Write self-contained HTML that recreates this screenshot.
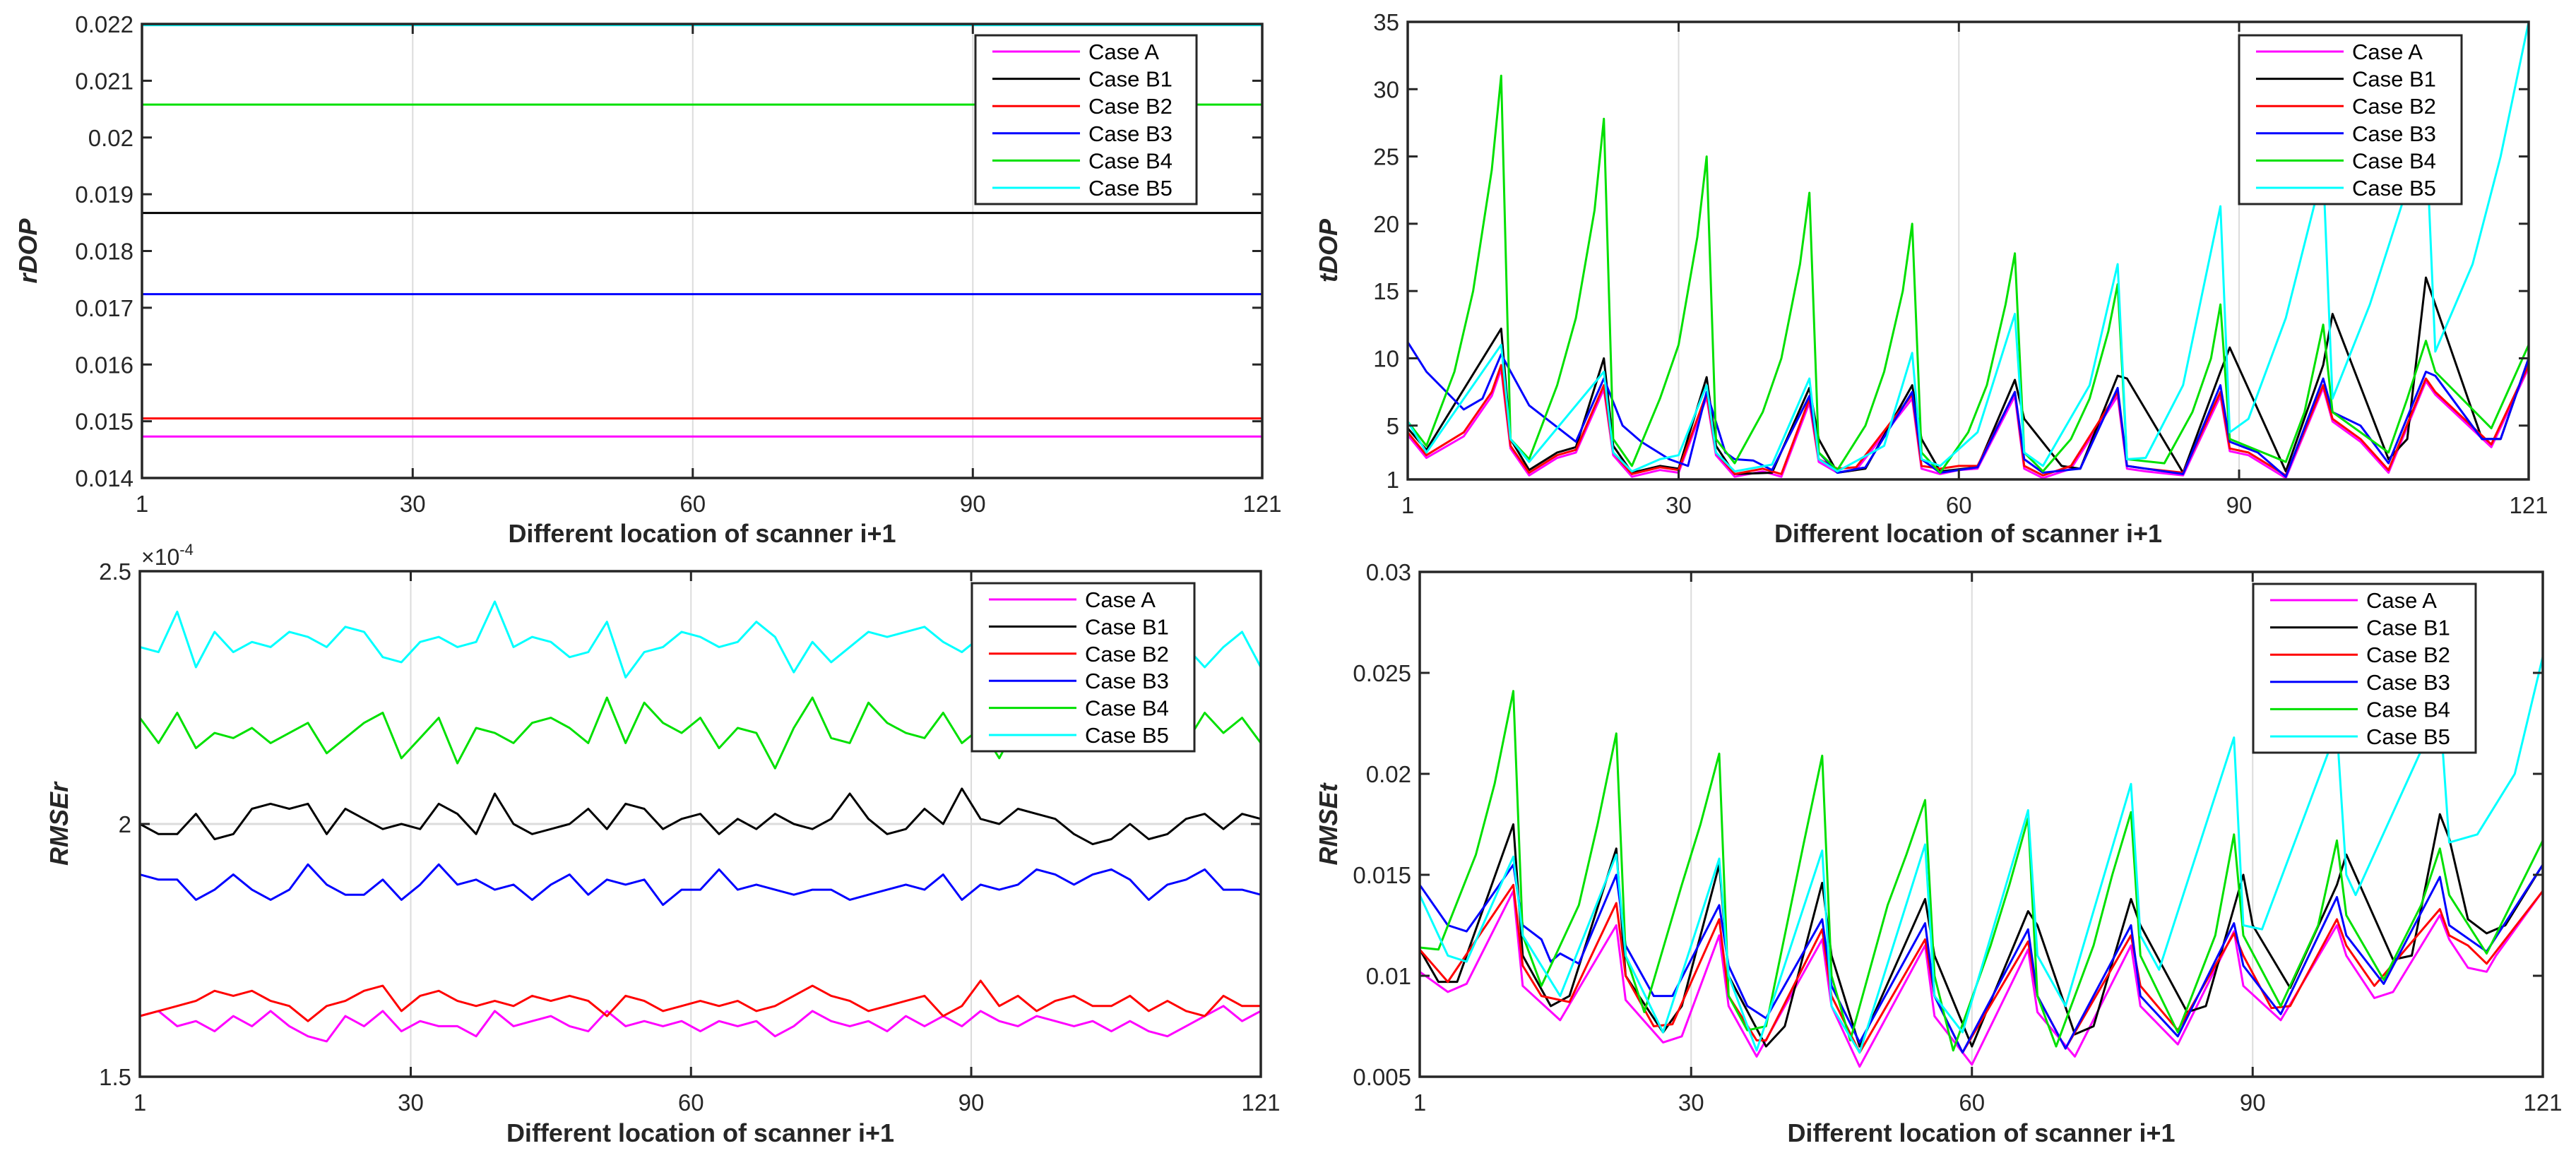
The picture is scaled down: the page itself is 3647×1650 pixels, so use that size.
<!DOCTYPE html>
<html><head><meta charset="utf-8"><style>
html,body{margin:0;padding:0;background:#fff;}
svg{display:block;font-family:"Liberation Sans",Arial,sans-serif;}
</style></head><body>
<svg id="fig" width="3647" height="1650" viewBox="0 0 3647 1650" xmlns="http://www.w3.org/2000/svg"></svg>
<script>
const caseNames = ["Case A","Case B1","Case B2","Case B3","Case B4","Case B5"];
const caseColors = ["#ff00ff","#000000","#ff0000","#0000ff","#00e000","#00ffff"];
const xTicks = [1,30,60,90,121];

// rDOP constant values
const rdopValues = [0.01473,0.01867,0.01505,0.01724,0.02058,0.02198];
const rdopTicks = [0.014,0.015,0.016,0.017,0.018,0.019,0.02,0.021,0.022];
const rdopTickLabels = ["0.014","0.015","0.016","0.017","0.018","0.019","0.02","0.021","0.022"];

// tDOP keypoints
const tdopTicks = [1,5,10,15,20,25,30,35];
const tdopAX = [1,3,7,10,11,12,14,17,19,22,23,25,28,30,33,34,36,39,41,44,45,47,49,55,56,58,60,62,66,67,69,72,77,78,80,84,88,89,91,95,99,100,103,106,110,111,117,121];
const tdopAY = [4.3,2.6,4.2,7.2,9.2,3.3,1.3,2.6,3.0,7.7,2.8,1.2,1.7,1.5,7.1,2.8,1.2,1.6,1.2,6.7,2.3,1.5,1.7,7.0,1.8,1.4,1.7,1.8,7.2,1.8,1.1,1.8,7.2,1.8,1.6,1.3,7.2,3.1,2.8,1.1,7.8,5.3,3.8,1.5,8.3,7.3,3.4,9.3];
const tdopB1X = [1,3,11,12,14,17,19,22,23,25,28,30,33,34,36,40,44,45,47,50,55,56,58,62,66,67,71,73,77,78,84,88,89,95,99,100,106,108,110,111,116,118,121];
const tdopB1Y = [4.8,3.2,12.2,4,1.7,3,3.4,10,3.5,1.5,2,1.8,8.6,3.5,1.4,1.5,7.8,4,1.5,1.8,8,4,1.6,1.9,8.4,5.5,2,1.8,8.7,8.5,1.5,9,10.8,1.6,9.5,13.3,2.5,4,16,14,4,4,10];
const tdopB2X = [1,3,7,10,11,12,14,17,19,22,23,25,28,30,33,34,36,39,41,44,45,47,49,55,56,58,60,62,66,67,69,72,77,78,80,84,88,89,91,95,99,100,103,106,110,111,117,121];
const tdopB2Y = [4.5,2.8,4.5,7.5,9.5,3.5,1.5,2.8,3.2,8,3,1.4,1.9,1.7,7.4,3,1.4,1.8,1.4,7,2.5,1.8,1.9,7.3,2,1.8,2.0,2.0,7.5,2,1.3,2,7.5,2,1.8,1.5,7.5,3.3,3,1.3,8,5.5,4,1.7,8.5,7.5,3.6,9.5];
const tdopB3X = [1,3,7,9,11,14,19,22,24,26,29,31,33,35,36,38,40,44,45,47,50,55,56,58,62,66,67,69,73,77,78,84,88,89,92,95,99,100,103,106,110,111,116,118,121];
const tdopB3Y = [11.2,9,6.2,7,10.3,6.5,3.8,8.5,5,3.8,2.5,2,7.5,3,2.5,2.4,1.7,7.2,3,1.5,1.9,7.5,2.5,1.5,1.9,7.5,2.5,1.5,1.8,7.8,2,1.4,8,3.8,3,1.2,8.5,6,5,2.2,9,8.7,4,4,10];
const tdopB4X = [1,3,6,8,10,11,12,14,17,19,21,22,23,25,28,30,32,33,34,36,39,41,43,44,45,47,50,52,54,55,56,58,61,63,65,66,67,69,72,74,76,77,78,82,85,87,88,89,95,97,99,100,106,108,110,111,117,121];
const tdopB4Y = [5.3,3.5,9,15,24,31,4,2.5,8,13,21,27.8,4,2,7,11,19,25,4,2.2,6,10,17,22.3,3,1.7,5,9,15,20,3,1.5,4.5,8,14,17.8,3,1.6,4,7,12,15.5,2.5,2.2,6,10,14,4,2.3,6,12.5,6,3,7,11.3,9,4.8,11];
const tdopB5X = [1,3,11,12,14,22,23,25,28,30,33,34,36,40,44,45,47,52,55,56,58,62,66,67,69,74,77,78,80,84,88,89,91,95,99,100,104,110,111,115,118,121];
const tdopB5Y = [5.3,3.0,11,4,2.3,9,3,1.6,2.5,2.8,8,3,1.6,2.1,8.5,2.5,1.6,3.5,10.4,2.5,2,4.5,13.3,3,2,8,17,2.5,2.6,8,21.3,4.5,5.5,13,24,7,14,27,10.5,17,25,35];

// RMSEr (x1e-4), odd x positions 1,3,...,121
const rmserX = [1,3,5,7,9,11,13,15,17,19,21,23,25,27,29,31,33,35,37,39,41,43,45,47,49,51,53,55,57,59,61,63,65,67,69,71,73,75,77,79,81,83,85,87,89,91,93,95,97,99,101,103,105,107,109,111,113,115,117,119,121];
const rmserTicks = [1.5,2,2.5];
const rmserA = [1.62,1.63,1.60,1.61,1.59,1.62,1.60,1.63,1.60,1.58,1.57,1.62,1.60,1.63,1.59,1.61,1.60,1.60,1.58,1.63,1.60,1.61,1.62,1.60,1.59,1.63,1.60,1.61,1.60,1.61,1.59,1.61,1.60,1.61,1.58,1.60,1.63,1.61,1.60,1.61,1.59,1.62,1.60,1.62,1.60,1.63,1.61,1.60,1.62,1.61,1.60,1.61,1.59,1.61,1.59,1.58,1.60,1.62,1.64,1.61,1.63];
const rmserB1 = [2.00,1.98,1.98,2.02,1.97,1.98,2.03,2.04,2.03,2.04,1.98,2.03,2.01,1.99,2.00,1.99,2.04,2.02,1.98,2.06,2.00,1.98,1.99,2.00,2.03,1.99,2.04,2.03,1.99,2.01,2.02,1.98,2.01,1.99,2.02,2.00,1.99,2.01,2.06,2.01,1.98,1.99,2.03,2.00,2.07,2.01,2.00,2.03,2.02,2.01,1.98,1.96,1.97,2.00,1.97,1.98,2.01,2.02,1.99,2.02,2.01];
const rmserB2 = [1.62,1.63,1.64,1.65,1.67,1.66,1.67,1.65,1.64,1.61,1.64,1.65,1.67,1.68,1.63,1.66,1.67,1.65,1.64,1.65,1.64,1.66,1.65,1.66,1.65,1.62,1.66,1.65,1.63,1.64,1.65,1.64,1.65,1.63,1.64,1.66,1.68,1.66,1.65,1.63,1.64,1.65,1.66,1.62,1.64,1.69,1.64,1.66,1.63,1.65,1.66,1.64,1.64,1.66,1.63,1.65,1.63,1.62,1.66,1.64,1.64];
const rmserB3 = [1.90,1.89,1.89,1.85,1.87,1.90,1.87,1.85,1.87,1.92,1.88,1.86,1.86,1.89,1.85,1.88,1.92,1.88,1.89,1.87,1.88,1.85,1.88,1.90,1.86,1.89,1.88,1.89,1.84,1.87,1.87,1.91,1.87,1.88,1.87,1.86,1.87,1.87,1.85,1.86,1.87,1.88,1.87,1.90,1.85,1.88,1.87,1.88,1.91,1.90,1.88,1.90,1.91,1.89,1.85,1.88,1.89,1.91,1.87,1.87,1.86];
const rmserB4 = [2.21,2.16,2.22,2.15,2.18,2.17,2.19,2.16,2.18,2.20,2.14,2.17,2.20,2.22,2.13,2.17,2.21,2.12,2.19,2.18,2.16,2.20,2.21,2.19,2.16,2.25,2.16,2.24,2.20,2.18,2.21,2.15,2.19,2.18,2.11,2.19,2.25,2.17,2.16,2.24,2.20,2.18,2.17,2.22,2.16,2.19,2.13,2.20,2.20,2.23,2.22,2.19,2.21,2.24,2.17,2.18,2.16,2.22,2.18,2.21,2.16];
const rmserB5 = [2.35,2.34,2.42,2.31,2.38,2.34,2.36,2.35,2.38,2.37,2.35,2.39,2.38,2.33,2.32,2.36,2.37,2.35,2.36,2.44,2.35,2.37,2.36,2.33,2.34,2.40,2.29,2.34,2.35,2.38,2.37,2.35,2.36,2.40,2.37,2.30,2.36,2.32,2.35,2.38,2.37,2.38,2.39,2.36,2.34,2.37,2.47,2.35,2.37,2.33,2.36,2.34,2.35,2.38,2.33,2.37,2.35,2.31,2.35,2.38,2.31];

// RMSEt keypoints
const rmsetTicks = [0.005,0.01,0.015,0.02,0.025,0.03];
const rmsetTickLabels = ["0.005","0.01","0.015","0.02","0.025","0.03"];
const rmsetAX = [1,4,6,11,12,16,22,23,27,29,33,34,37,44,45,48,55,56,60,66,67,71,77,78,82,88,89,93,99,100,103,105,110,111,113,115,116,121];
const rmsetAY = [0.0102,0.0092,0.0096,0.0142,0.0095,0.0078,0.0125,0.0088,0.0067,0.007,0.012,0.0085,0.006,0.0118,0.0085,0.0055,0.0115,0.008,0.0056,0.0113,0.0082,0.006,0.0115,0.0085,0.0066,0.0122,0.0095,0.0078,0.0125,0.011,0.0089,0.0092,0.013,0.0118,0.0104,0.0102,0.011,0.0142];
const rmsetB1X = [1,3,5,11,12,15,17,22,23,27,29,33,34,38,40,44,45,48,55,56,60,66,67,71,73,77,78,83,85,89,90,94,99,100,105,107,110,111,113,115,117,121];
const rmsetB1Y = [0.0113,0.0097,0.0097,0.0175,0.011,0.0085,0.009,0.0163,0.01,0.0072,0.0085,0.0155,0.01,0.0065,0.0075,0.0146,0.011,0.0065,0.0138,0.011,0.0065,0.0132,0.0125,0.0071,0.0075,0.0138,0.0125,0.0082,0.0085,0.015,0.0125,0.0094,0.0145,0.016,0.0108,0.011,0.018,0.0168,0.0128,0.0121,0.0125,0.0155];
const rmsetB2X = [1,4,11,12,14,17,22,23,26,28,33,34,37,38,44,45,48,55,56,59,66,67,70,77,78,82,88,89,92,94,99,100,103,110,111,113,115,121];
const rmsetB2Y = [0.0113,0.0097,0.0145,0.0105,0.009,0.0087,0.0136,0.01,0.0075,0.0076,0.0128,0.009,0.0068,0.0068,0.0123,0.009,0.0062,0.0118,0.009,0.0062,0.0117,0.009,0.0064,0.012,0.0095,0.0073,0.0121,0.011,0.0084,0.0085,0.0128,0.0115,0.0095,0.0133,0.012,0.0115,0.0106,0.0142];
const rmsetB3X = [1,4,6,8,11,12,14,15,16,18,22,23,26,28,33,34,36,38,44,45,48,55,56,59,66,67,70,77,78,82,88,89,93,99,100,104,110,111,115,121];
const rmsetB3Y = [0.0145,0.0125,0.0122,0.0135,0.0155,0.0125,0.0118,0.0107,0.0111,0.0106,0.015,0.0115,0.009,0.009,0.0135,0.0105,0.0085,0.0079,0.0128,0.0095,0.0067,0.0126,0.009,0.0062,0.0123,0.009,0.0064,0.0125,0.009,0.007,0.0126,0.0105,0.0081,0.0139,0.012,0.0096,0.0149,0.0125,0.0112,0.0155];
const rmsetB4X = [1,3,7,9,11,12,14,18,20,22,23,25,29,31,33,34,36,38,42,44,45,47,51,53,55,56,58,62,64,66,67,69,73,75,77,78,82,86,88,89,93,97,99,100,104,108,110,111,115,121];
const rmsetB4Y = [0.0114,0.0113,0.016,0.0195,0.0241,0.012,0.0095,0.0135,0.0175,0.022,0.011,0.0082,0.0145,0.0175,0.021,0.009,0.0073,0.0075,0.0165,0.0209,0.01,0.0068,0.0135,0.016,0.0187,0.01,0.0063,0.0115,0.0145,0.0178,0.009,0.0065,0.0115,0.015,0.0181,0.011,0.0072,0.012,0.017,0.012,0.0085,0.0125,0.0167,0.013,0.0098,0.0135,0.0163,0.014,0.0111,0.0167];
const rmsetB5X = [1,4,6,11,12,16,22,23,27,33,34,37,44,45,48,55,56,59,66,67,70,77,78,80,88,89,91,99,100,101,110,111,114,118,121];
const rmsetB5Y = [0.014,0.011,0.0107,0.0159,0.012,0.009,0.016,0.011,0.0072,0.0158,0.01,0.0063,0.0162,0.0085,0.0062,0.0165,0.009,0.0072,0.0182,0.011,0.0085,0.0195,0.012,0.0103,0.0218,0.0125,0.0123,0.0222,0.015,0.014,0.0232,0.0166,0.017,0.02,0.0258];

const NS = "http://www.w3.org/2000/svg";
const svg = document.getElementById("fig");
function mk(tag, attrs, parent){
  const e = document.createElementNS(NS, tag);
  for (const k in attrs) e.setAttribute(k, attrs[k]);
  (parent||svg).appendChild(e);
  return e;
}

function drawChart(cfg){
  const g = mk("g", {});
  
  
  const {L,R,T,B,ymin,ymax} = cfg;
  const sx = v => L + (v-1)/(120)*(R-L);
  const sy = v => B - (v-ymin)/(ymax-ymin)*(B-T);
  // grid
  [30,60,90].forEach(t=>{
    const gl = mk("line",{x1:sx(t),x2:sx(t),y1:T,y2:B,stroke:"#dcdcdc","stroke-width":2},g);
    
    
  });
  (cfg.hgrid||[]).forEach(t=>{
    const gl = mk("line",{x1:L,x2:R,y1:sy(t),y2:sy(t),stroke:"#dcdcdc","stroke-width":3},g);
    
    
  });
  const cid = "clip-"+cfg.name;
  const cp = mk("clipPath",{id:cid},g);
  mk("rect",{x:L,y:T,width:R-L,height:B-T},cp);
  const sg = mk("g",{"clip-path":"url(#"+cid+")"},g);
  cfg.series.forEach((s,i)=>{
    const pts = s.x.map((xv,j)=>sx(xv).toFixed(1)+","+sy(s.y[j]).toFixed(1)).join(" ");
    const pl = mk("polyline",{points:pts,fill:"none",stroke:caseColors[i],"stroke-width":3,"stroke-linejoin":"round"},sg);
    
    
  });
  // axes box
  const box = mk("rect",{x:L,y:T,width:R-L,height:B-T,fill:"none",stroke:"#262626","stroke-width":3.5},g);
  
  
  // x ticks
  xTicks.forEach(t=>{
    mk("line",{x1:sx(t),x2:sx(t),y1:B,y2:B-14,stroke:"#262626","stroke-width":3},g);
    mk("line",{x1:sx(t),x2:sx(t),y1:T,y2:T+14,stroke:"#262626","stroke-width":3},g);
    const tl = mk("text",{x:sx(t),y:B+48,"text-anchor":"middle","font-size":33,fill:"#262626"},g);
    tl.textContent = t;
    
    
  });
  cfg.yTicks.forEach((t,k)=>{
    mk("line",{x1:L,x2:L+14,y1:sy(t),y2:sy(t),stroke:"#262626","stroke-width":3},g);
    mk("line",{x1:R,x2:R-14,y1:sy(t),y2:sy(t),stroke:"#262626","stroke-width":3},g);
    const tl = mk("text",{x:L-12,y:sy(t)+12,"text-anchor":"end","font-size":33,fill:"#262626"},g);
    tl.textContent = cfg.yTickLabels ? cfg.yTickLabels[k] : String(t);
    
    
  });
  const xl = mk("text",{x:(L+R)/2,y:cfg.xlabelY,"text-anchor":"middle","font-size":36,"font-weight":"bold",fill:"#262626"},g);
  xl.textContent = "Different location of scanner i+1";
  
  
  const yl = mk("text",{x:0,y:0,"text-anchor":"middle","font-size":36,"font-weight":"bold","font-style":"italic",fill:"#262626",transform:"translate("+cfg.ylabelX+","+((T+B)/2)+") rotate(-90)"},g);
  yl.textContent = cfg.ylabel;
  
  
  // legend
  const lg = mk("g",{},g);
  
  
  const Lg = cfg.legend;
  mk("rect",{x:Lg.x,y:Lg.y,width:Lg.w,height:Lg.h,fill:"#fff",stroke:"#262626","stroke-width":3},lg);
  caseNames.forEach((n,i)=>{
    const yy = Lg.y + 23 + i*(Lg.h-46)/5;
    const le = mk("g",{},lg);
    
    
    mk("line",{x1:Lg.x+24,x2:Lg.x+148,y1:yy,y2:yy,stroke:caseColors[i],"stroke-width":3},le);
    const t = mk("text",{x:Lg.x+160,y:yy+11,"font-size":31,fill:"#000"},le);
    t.textContent = n;
  });
}

drawChart({name:"rdop-chart",L:201,R:1787,T:34,B:677,ymin:0.014,ymax:0.022,
  yTicks:rdopTicks,yTickLabels:rdopTickLabels,xlabelY:768,ylabel:"rDOP",ylabelX:52,
  legend:{x:1381,y:50,w:313,h:239},
  series:rdopValues.map(v=>({x:[1,121],y:[v,v]}))});

drawChart({name:"tdop-chart",L:1993,R:3580,T:31,B:679,ymin:1,ymax:35,
  yTicks:tdopTicks,xlabelY:768,ylabel:"tDOP",ylabelX:1893,
  legend:{x:3170,y:50,w:315,h:239},
  series:[{x:tdopAX,y:tdopAY},{x:tdopB1X,y:tdopB1Y},{x:tdopB2X,y:tdopB2Y},{x:tdopB3X,y:tdopB3Y},{x:tdopB4X,y:tdopB4Y},{x:tdopB5X,y:tdopB5Y}]});

drawChart({name:"rmser-chart",L:198,R:1785,T:809,B:1525,ymin:1.5,ymax:2.5,
  yTicks:rmserTicks,hgrid:[2],xlabelY:1617,ylabel:"RMSEr",ylabelX:96,
  legend:{x:1376,y:826,w:315,h:238},
  series:[rmserA,rmserB1,rmserB2,rmserB3,rmserB4,rmserB5].map(a=>({x:rmserX,y:a}))});

drawChart({name:"rmset-chart",L:2010,R:3600,T:810,B:1525,ymin:0.005,ymax:0.03,
  yTicks:rmsetTicks,yTickLabels:rmsetTickLabels,xlabelY:1617,ylabel:"RMSEt",ylabelX:1893,
  legend:{x:3190,y:827,w:315,h:239},
  series:[{x:rmsetAX,y:rmsetAY},{x:rmsetB1X,y:rmsetB1Y},{x:rmsetB2X,y:rmsetB2Y},{x:rmsetB3X,y:rmsetB3Y},{x:rmsetB4X,y:rmsetB4Y},{x:rmsetB5X,y:rmsetB5Y}]});

// exponent label
const ex = mk("text",{x:200,y:800,"font-size":32,fill:"#262626"});


ex.innerHTML = '×10<tspan dy="-14" font-size="22">-4</tspan>';
</script>
</body></html>
